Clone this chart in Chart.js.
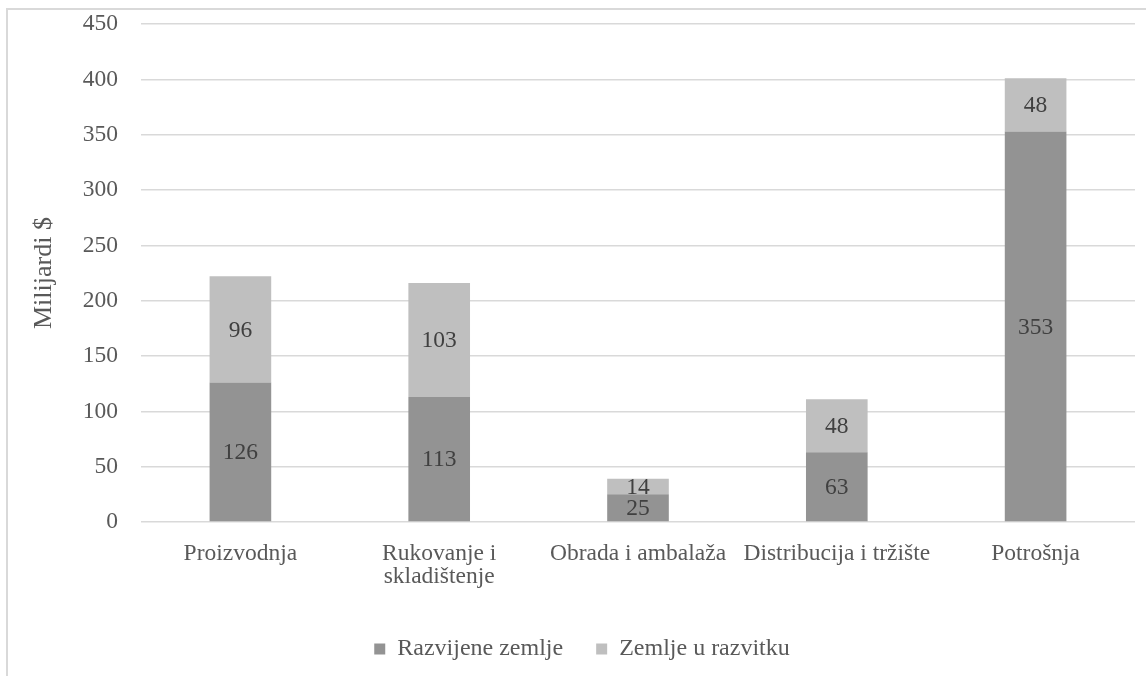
<!DOCTYPE html>
<html>
<head>
<meta charset="utf-8">
<script src="https://cdn.jsdelivr.net/npm/chart.js@4/dist/chart.umd.min.js"></script>
<style>
  html, body { margin: 0; padding: 0; background: #fff; overflow: hidden; }
  #frame { position: absolute; left: 6px; top: 8px; width: 1160px; height: 700px; border: 2px solid #d9d9d9; }
  #wrap { position: absolute; left: 0; top: -13px; width: 1146px; height: 689px; }
</style>
</head>
<body>
<div id="frame"></div>
<div id="wrap"><canvas id="myChart"></canvas></div>
<script>
const categories = ['Proizvodnja', ['Rukovanje i', 'skladištenje'], 'Obrada i ambalaža', 'Distribucija i tržište', 'Potrošnja'];
const developed = [126, 113, 25, 63, 353];
const developing = [96, 103, 14, 48, 48];
const seriesNames = ['Razvijene zemlje', 'Zemlje u razvitku'];

const textColour = '#595959';
const fontFamily = '"Liberation Serif", "Times New Roman", serif';

// writes the value in the middle of every bar segment
const barLabels = {
    id: 'barLabels',
    afterDatasetsDraw(chart) {
        const ctx = chart.ctx;
        ctx.save();
        ctx.font = '23.5px ' + fontFamily;
        ctx.fillStyle = '#404040';
        ctx.textAlign = 'center';
        ctx.textBaseline = 'middle';
        chart.data.datasets.forEach((ds, i) => {
            chart.getDatasetMeta(i).data.forEach((bar, j) => {
                const mid = (bar.y + bar.base) / 2;
                ctx.fillText(ds.data[j], bar.x, mid + 1);
            });
        });
        ctx.restore();
    }
};

const data = {
    labels: categories,
    datasets: [{
        label: seriesNames[0],
        backgroundColor: '#939393',
        data: developed,
        barPercentage: 0.62,
        categoryPercentage: 0.5
    }, {
        label: seriesNames[1],
        backgroundColor: '#bfbfbf',
        data: developing,
        barPercentage: 0.62,
        categoryPercentage: 0.5
    }]
};

const config = {
    type: 'bar',
    data: data,
    options: {
        responsive: true,
        maintainAspectRatio: false,
        animation: false,
        layout: {
            padding: { left: 29, right: 11, top: 0, bottom: 5 }
        },
        scales: {
            x: {
                stacked: true,
                afterFit(scale) { scale.height += 3; },
                grid: { display: false },
                border: { display: false },
                ticks: {
                    color: textColour,
                    font: { family: fontFamily, size: 23.5, lineHeight: 1.0 },
                    maxRotation: 0,
                    padding: 12
                }
            },
            y: {
                stacked: true,
                min: 0,
                max: 450,
                afterFit(scale) { scale.width = 112; },
                grid: { color: '#d9d9d9', lineWidth: 1.5, drawTicks: false },
                border: { display: false },
                ticks: {
                    stepSize: 50,
                    color: textColour,
                    font: { family: fontFamily, size: 23.5 },
                    padding: 23
                },
                title: {
                    display: true,
                    text: 'Milijardi $',
                    color: textColour,
                    font: { family: fontFamily, size: 26 },
                    padding: 0
                }
            }
        },
        plugins: {
            legend: {
                position: 'bottom',
                labels: {
                    color: textColour,
                    font: { family: fontFamily, size: 24 },
                    boxWidth: 11,
                    boxHeight: 11,
                    padding: 33
                }
            },
            tooltip: { enabled: false }
        }
    },
    plugins: [barLabels]
};

const myChart = new Chart(
    document.getElementById('myChart'),
    config
);
</script>
</body>
</html>
